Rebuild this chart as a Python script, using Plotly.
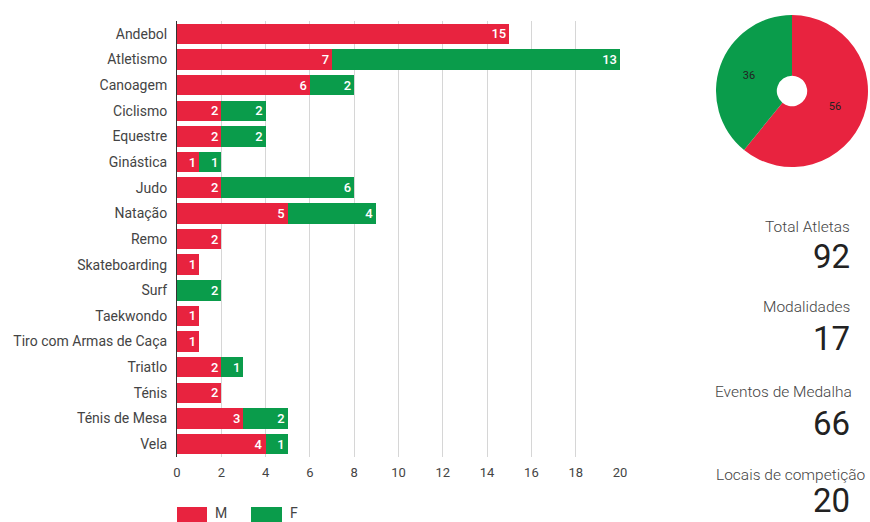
import plotly.graph_objects as go

W, H = 870, 522

modalidades = ["Andebol", "Atletismo", "Canoagem", "Ciclismo", "Equestre", "Ginástica",
               "Judo", "Natação", "Remo", "Skateboarding", "Surf", "Taekwondo",
               "Tiro com Armas de Caça", "Triatlo", "Ténis", "Ténis de Mesa", "Vela"]
masculino = [15, 7, 6, 2, 2, 1, 2, 5, 2, 1, None, 1, 1, 2, 2, 3, 4]
feminino = [None, 13, 2, 2, 2, 1, 6, 4, None, None, 2, None, None, 1, None, 2, 1]

generos = ["M", "F"]
total_genero = [56, 36]

kpi_titulos = ["Total Atletas", "Modalidades", "Eventos de Medalha", "Locais de competição"]
kpi_valores = ["92", "17", "66", "20"]

RED = "#E8233F"
GREEN = "#0A9C4B"
FONT = "Roboto"


def px_x(x):
    return x / W


def px_y(y):
    return 1 - y / H


fig = go.Figure()

for name, vals, color in [("M", masculino, RED), ("F", feminino, GREEN)]:
    fig.add_trace(go.Bar(
        y=modalidades, x=vals, name=name, orientation="h",
        marker=dict(color=color, line=dict(width=0)),
        text=[("" if v is None else str(v)) for v in vals],
        textposition="inside", insidetextanchor="end", textangle=0,
        textfont=dict(color="white", size=13, family=FONT + " Medium"),
        constraintext="none", cliponaxis=False,
        showlegend=False, hoverinfo="skip",
    ))

fig.add_trace(go.Pie(
    labels=generos, values=total_genero, hole=0.2, sort=False,
    direction="clockwise", rotation=0,
    marker=dict(colors=[RED, GREEN], line=dict(width=0)),
    textinfo="value", textposition="inside",
    textfont=dict(color="#222222", size=11, family=FONT),
    insidetextorientation="horizontal",
    domain=dict(x=[px_x(716), px_x(868)], y=[px_y(167), px_y(15)]),
    showlegend=False, hoverinfo="skip",
))

annotations = []
title_y = [227, 307, 392, 475]
title_right = [852, 852, 854, 867]
value_y = [257, 338, 423, None]
for t, v, ty, tr, vy in zip(kpi_titulos, kpi_valores, title_y, title_right, value_y):
    annotations.append(dict(x=px_x(tr), y=px_y(ty), xref="paper", yref="paper",
                            text=t, showarrow=False, xanchor="right", yanchor="middle",
                            font=dict(family=FONT + " Light", size=15.5, color="#444444")))
    # the last figure sits on the bottom edge of the page
    annotations.append(dict(x=px_x(852), y=(px_y(vy) if vy is not None else 0),
                            xref="paper", yref="paper",
                            text=v, showarrow=False, xanchor="right",
                            yanchor=("middle" if vy is not None else "bottom"),
                            font=dict(family=FONT, size=33, color="#222222")))

# legend drawn as swatches below the bar chart
shapes = []
for (x0, x1, lx, label, color) in [(177, 207, 213, "M", RED), (251, 282, 288, "F", GREEN)]:
    shapes.append(dict(type="rect", xref="paper", yref="paper",
                       x0=px_x(x0), x1=px_x(x1), y0=px_y(522), y1=px_y(507),
                       fillcolor=color, line=dict(width=0)))
    annotations.append(dict(x=px_x(lx), y=px_y(513), xref="paper", yref="paper",
                            text=label, showarrow=False, xanchor="left", yanchor="middle",
                            font=dict(family=FONT, size=14, color="#444444")))

fig.update_layout(
    width=W, height=H,
    margin=dict(l=0, r=0, t=0, b=0),
    paper_bgcolor="white", plot_bgcolor="white",
    barmode="stack", bargap=0.2,
    font=dict(family=FONT, color="#444444"),
    xaxis=dict(domain=[px_x(177), px_x(620)], range=[0, 20], dtick=2,
               showgrid=True, gridcolor="#d6d6d6", gridwidth=1, zeroline=False,
               ticks="", ticklabelstandoff=6, tickfont=dict(size=13, color="#444444"),
               automargin=False, fixedrange=True),
    yaxis=dict(domain=[px_y(457), px_y(21)], autorange="reversed",
               showline=True, linecolor="#333333", linewidth=1,
               ticks="", ticklabelstandoff=6, tickfont=dict(size=14, color="#444444"),
               automargin=False, fixedrange=True),
    annotations=annotations, shapes=shapes,
)

fig.write_html("out.html")
